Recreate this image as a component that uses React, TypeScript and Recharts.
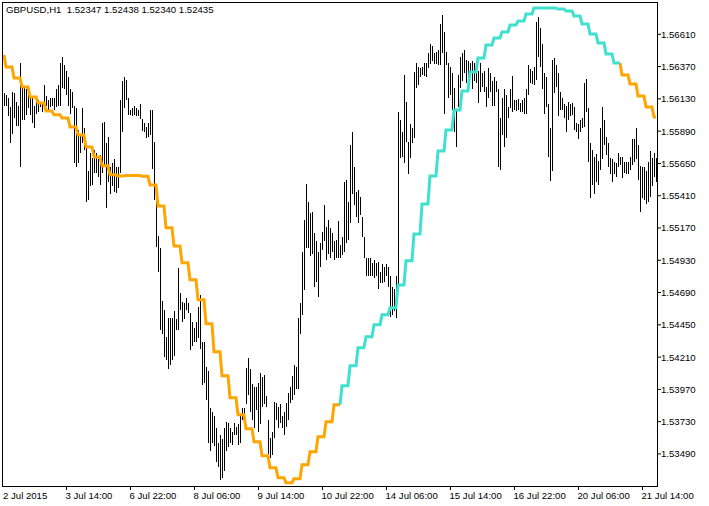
import React from 'react';
import { ComposedChart, Bar, Line, XAxis, YAxis } from 'recharts';

const title = 'GBPUSD,H1  1.52347 1.52438 1.52340 1.52435';

const highs = [
  1.5617,1.5616,1.5614,1.5607,1.5618,1.5617,1.5611,1.5608,1.5640,1.5622,
  1.5621,1.5620,1.5616,1.5616,1.5614,1.5608,1.5614,1.5612,1.5611,1.5611,
  1.5623,1.5615,1.5612,1.5614,1.5614,1.5614,1.5620,1.5623,1.5640,1.5644,
  1.5638,1.5634,1.5629,1.5620,1.5618,1.5608,1.5606,1.5590,1.5586,1.5606,
  1.5591,1.5577,1.5559,1.5573,1.5569,1.5575,1.5573,1.5568,1.5571,1.5595,
  1.5596,1.5580,1.5585,1.5562,1.5565,1.5568,1.5562,1.5562,1.5612,1.5626,
  1.5629,1.5627,1.5614,1.5605,1.5606,1.5608,1.5606,1.5605,1.5609,1.5598,
  1.5595,1.5592,1.5595,1.5605,1.5605,1.5581,1.5538,1.5511,1.5502,1.5463,
  1.5456,1.5436,1.5450,1.5450,1.5450,1.5455,1.5449,1.5487,1.5469,1.5462,
  1.5461,1.5465,1.5461,1.5454,1.5447,1.5443,1.5447,1.5458,1.5467,1.5432,
  1.5432,1.5414,1.5411,1.5383,1.5380,1.5377,1.5368,1.5357,1.5363,1.5360,
  1.5368,1.5373,1.5372,1.5368,1.5365,1.5372,1.5369,1.5371,1.5377,1.5383,
  1.5383,1.5413,1.5420,1.5412,1.5401,1.5399,1.5399,1.5402,1.5409,1.5406,
  1.5408,1.5392,1.5374,1.5361,1.5365,1.5388,1.5387,1.5384,1.5386,1.5377,
  1.5380,1.5387,1.5394,1.5399,1.5407,1.5415,1.5414,1.5450,1.5461,1.5499,
  1.5523,1.5550,1.5536,1.5528,1.5529,1.5513,1.5507,1.5499,1.5506,1.5514,
  1.5534,1.5518,1.5523,1.5517,1.5513,1.5507,1.5508,1.5522,1.5504,1.5510,
  1.5551,1.5553,1.5536,1.5579,1.5588,1.5562,1.5544,1.5545,1.5540,1.5525,
  1.5510,1.5495,1.5495,1.5495,1.5491,1.5493,1.5491,1.5492,1.5484,1.5490,
  1.5488,1.5490,1.5488,1.5481,1.5473,1.5472,1.5481,1.5603,1.5597,1.5588,
  1.5631,1.5611,1.5581,1.5594,1.5591,1.5633,1.5640,1.5637,1.5636,1.5637,
  1.5640,1.5640,1.5647,1.5654,1.5652,1.5647,1.5648,1.5649,1.5669,1.5675,
  1.5663,1.5648,1.5640,1.5637,1.5632,1.5621,1.5605,1.5631,1.5644,1.5647,
  1.5649,1.5642,1.5641,1.5640,1.5641,1.5640,1.5632,1.5634,1.5640,1.5632,
  1.5634,1.5622,1.5636,1.5632,1.5626,1.5629,1.5626,1.5620,1.5599,1.5614,
  1.5620,1.5616,1.5607,1.5620,1.5630,1.5612,1.5612,1.5613,1.5610,1.5612,
  1.5614,1.5620,1.5638,1.5635,1.5634,1.5637,1.5670,1.5674,1.5666,1.5654,
  1.5632,1.5629,1.5609,1.5591,1.5642,1.5643,1.5638,1.5632,1.5618,1.5614,
  1.5609,1.5608,1.5611,1.5609,1.5610,1.5607,1.5595,1.5594,1.5597,1.5599,
  1.5625,1.5628,1.5606,1.5580,1.5575,1.5570,1.5572,1.5567,1.5591,1.5607,
  1.5597,1.5585,1.5580,1.5569,1.5568,1.5566,1.5565,1.5573,1.5570,1.5570,
  1.5566,1.5566,1.5566,1.5570,1.5583,1.5583,1.5591,1.5579,1.5563,1.5562,
  1.5562,1.5559,1.5566,1.5574,1.5569,1.5573,1.5569,
];

const lows = [
  1.5608,1.5608,1.5600,1.5580,1.5587,1.5599,1.5593,1.5593,1.5562,1.5597,
  1.5597,1.5601,1.5606,1.5601,1.5595,1.5591,1.5602,1.5603,1.5607,1.5603,
  1.5607,1.5608,1.5605,1.5607,1.5608,1.5605,1.5607,1.5608,1.5608,1.5621,
  1.5620,1.5616,1.5608,1.5602,1.5606,1.5565,1.5562,1.5565,1.5573,1.5580,
  1.5575,1.5536,1.5538,1.5548,1.5549,1.5558,1.5558,1.5555,1.5549,1.5558,
  1.5562,1.5532,1.5551,1.5542,1.5548,1.5544,1.5543,1.5547,1.5558,1.5588,
  1.5606,1.5612,1.5601,1.5601,1.5600,1.5601,1.5600,1.5600,1.5598,1.5589,
  1.5588,1.5584,1.5585,1.5586,1.5561,1.5538,1.5503,1.5484,1.5441,1.5438,
  1.5421,1.5419,1.5412,1.5415,1.5419,1.5422,1.5441,1.5441,1.5456,1.5447,
  1.5449,1.5456,1.5454,1.5426,1.5429,1.5432,1.5432,1.5435,1.5427,1.5400,
  1.5402,1.5389,1.5357,1.5351,1.5357,1.5355,1.5343,1.5339,1.5330,1.5331,
  1.5336,1.5351,1.5354,1.5357,1.5356,1.5363,1.5363,1.5356,1.5357,1.5374,
  1.5372,1.5386,1.5393,1.5380,1.5374,1.5368,1.5382,1.5365,1.5371,1.5384,
  1.5386,1.5384,1.5349,1.5346,1.5348,1.5361,1.5374,1.5368,1.5372,1.5368,
  1.5363,1.5369,1.5374,1.5387,1.5389,1.5393,1.5397,1.5397,1.5438,1.5452,
  1.5471,1.5502,1.5502,1.5496,1.5498,1.5473,1.5477,1.5466,1.5488,1.5501,
  1.5507,1.5493,1.5498,1.5495,1.5499,1.5493,1.5495,1.5495,1.5495,1.5497,
  1.5499,1.5506,1.5508,1.5521,1.5542,1.5534,1.5525,1.5521,1.5527,1.5510,
  1.5495,1.5481,1.5481,1.5481,1.5481,1.5480,1.5481,1.5472,1.5476,1.5476,
  1.5477,1.5481,1.5473,1.5451,1.5452,1.5455,1.5450,1.5475,1.5569,1.5570,
  1.5565,1.5581,1.5557,1.5569,1.5580,1.5584,1.5621,1.5623,1.5629,1.5631,
  1.5630,1.5629,1.5636,1.5639,1.5641,1.5639,1.5639,1.5638,1.5638,1.5647,
  1.5602,1.5638,1.5614,1.5616,1.5605,1.5588,1.5577,1.5607,1.5621,1.5626,
  1.5632,1.5625,1.5629,1.5633,1.5620,1.5626,1.5625,1.5610,1.5618,1.5622,
  1.5618,1.5607,1.5614,1.5618,1.5608,1.5608,1.5618,1.5562,1.5560,1.5586,
  1.5577,1.5584,1.5599,1.5606,1.5603,1.5605,1.5604,1.5605,1.5603,1.5603,
  1.5602,1.5602,1.5616,1.5625,1.5624,1.5623,1.5627,1.5644,1.5637,1.5620,
  1.5602,1.5607,1.5570,1.5552,1.5559,1.5617,1.5622,1.5600,1.5605,1.5605,
  1.5599,1.5588,1.5597,1.5600,1.5601,1.5590,1.5588,1.5583,1.5588,1.5591,
  1.5592,1.5603,1.5566,1.5539,1.5549,1.5542,1.5551,1.5549,1.5560,1.5568,
  1.5579,1.5571,1.5562,1.5557,1.5551,1.5557,1.5555,1.5562,1.5564,1.5554,
  1.5558,1.5557,1.5557,1.5560,1.5564,1.5566,1.5568,1.5553,1.5529,1.5539,
  1.5538,1.5535,1.5536,1.5540,1.5548,1.5555,1.5551,
];

// moving average value for each 4-hour block (first block holds one bar)
const maBlocks = [
  1.56456,1.56367,1.56285,1.56219,1.56144,1.56100,1.56040,1.56011,1.55988,1.55921,
  1.55862,1.55773,1.55698,1.55632,1.55565,1.55557,1.55561,1.55561,1.55554,1.55490,
  1.55334,1.55171,1.55037,1.54911,1.54785,1.54636,1.54458,1.54250,1.54071,1.53908,
  1.53782,1.53678,1.53581,1.53477,1.53388,1.53314,1.53276,1.53306,1.53410,1.53507,
  1.53618,1.53730,1.53856,1.53997,1.54146,1.54279,1.54361,1.54450,1.54525,1.54577,
  1.54747,1.54926,1.55126,1.55349,1.55557,1.55743,1.55899,1.56048,1.56189,1.56330,
  1.56434,1.56531,1.56583,1.56627,1.56679,1.56709,1.56761,1.56806,1.56806,1.56806,
  1.56798,1.56783,1.56746,1.56687,1.56612,1.56546,1.56464,1.56397,1.56308,1.56241,
  1.56152,1.56070,1.55996,
];

// -1 = orange (down) state, 1 = turquoise (up) state, per block
const maTrend = [
  -1,-1,-1,-1,-1,-1,-1,-1,-1,-1,
  -1,-1,-1,-1,-1,-1,-1,-1,-1,-1,
  -1,-1,-1,-1,-1,-1,-1,-1,-1,-1,
  -1,-1,-1,-1,-1,-1,-1,-1,-1,-1,
  -1,-1,-1,1,1,1,1,1,1,1,
  1,1,1,1,1,1,1,1,1,1,
  1,1,1,1,1,1,1,1,1,1,
  1,1,1,1,1,1,1,1,-1,-1,
  -1,-1,-1,
];

const tickIndices = [0, 31, 63, 95, 127, 159, 191, 223, 255, 287, 319];
const tickLabels = [
  '2 Jul 2015', '3 Jul 14:00', '6 Jul 22:00', '8 Jul 06:00', '9 Jul 14:00',
  '10 Jul 22:00', '14 Jul 06:00', '15 Jul 14:00', '16 Jul 22:00', '20 Jul 06:00', '21 Jul 14:00',
];

const priceTicks = [
  1.5349, 1.5373, 1.5397, 1.5421, 1.5445, 1.5469, 1.5493,
  1.5517, 1.5541, 1.5565, 1.5589, 1.5613, 1.5637, 1.5661,
];
const priceDomain = [1.53252, 1.5685];

const FONT = 'Liberation Sans, Arial, sans-serif';
const ORANGE = '#FFA500';
const TURQ = '#40E0D0';

const blockOf = (i: number) => (i === 0 ? 0 : Math.floor((i - 1) / 4) + 1);

const data = highs.map((h, i) => {
  const k = blockOf(i);
  const ma = maBlocks[k];
  const up = maTrend[k] > 0;
  const nextUp = i + 1 < highs.length ? maTrend[blockOf(i + 1)] > 0 : up;
  return {
    i,
    hl: [lows[i], h],
    maDown: !up || !nextUp ? ma : null,
    maUp: up || nextUp ? ma : null,
  };
});

const HLBar = (props: any) => {
  const { x, y, width, height } = props;
  if (x == null || y == null || isNaN(x) || isNaN(y)) return <g />;
  const top = height < 0 ? y + height : y;
  const h = Math.max(1, Math.abs(height));
  const cx = Math.round(x + width / 2 - 0.5);
  return <rect x={cx} y={top} width={1} height={h} fill="#000" shapeRendering="crispEdges" />;
};

const XTick = (props: any) => {
  const { x, y, payload } = props;
  const idx = tickIndices.indexOf(payload.value);
  if (idx < 0) return <g />;
  const axisY = y - 4;
  const tx = Math.round(x) + 0.5;
  return (
    <g>
      {idx > 0 && <line x1={tx} x2={tx} y1={axisY} y2={axisY + 4} stroke="#000" strokeWidth={1} />}
      <text x={idx === 0 ? x - 1 : x - 0.5} y={axisY + 12.5} fontSize={9.6} fontFamily={FONT} fill="#000" textAnchor="start">
        {tickLabels[idx]}
      </text>
    </g>
  );
};

export default function App() {
  return (
    <div style={{ position: 'fixed', left: 0, top: 0, width: 709, height: 506, background: '#fff' }}>
      <ComposedChart
        width={709}
        height={506}
        data={data}
        margin={{ top: 2, right: 0, bottom: 0, left: 3 }}
        barGap={0}
        barCategoryGap={0}
      >
        <XAxis
          dataKey="i"
          type="category"
          interval={0}
          tickLine={false}
          axisLine={false}
          tickSize={4}
          tickMargin={0}
          height={20}
          tick={<XTick />}
        />
        <YAxis
          orientation="right"
          type="number"
          domain={priceDomain}
          allowDataOverflow
          ticks={priceTicks}
          interval={0}
          tickFormatter={(v: number) => v.toFixed(5)}
          width={52}
          axisLine={false}
          tickLine={{ stroke: '#000' }}
          tickSize={4}
          tickMargin={0}
          tick={{ fontSize: 9.6, fill: '#000', fontFamily: FONT }}
        />
        <Bar dataKey="hl" barSize={1} fill="#000" shape={<HLBar />} isAnimationActive={false} />
        <Line
          dataKey="maDown"
          type="linear"
          stroke={ORANGE}
          strokeWidth={3}
          dot={false}
          activeDot={false}
          connectNulls={false}
          isAnimationActive={false}
        />
        <Line
          dataKey="maUp"
          type="linear"
          stroke={TURQ}
          strokeWidth={3}
          dot={false}
          activeDot={false}
          connectNulls={false}
          isAnimationActive={false}
        />
      </ComposedChart>
      <div
        style={{
          position: 'absolute', left: 2, top: 2, width: 656, height: 485,
          border: '1px solid #000', boxSizing: 'border-box', pointerEvents: 'none',
        }}
      />
      <div
        style={{
          position: 'absolute', left: 6, top: 4, fontFamily: FONT, fontSize: 9.6,
          lineHeight: '11px', whiteSpace: 'pre', color: '#000',
        }}
      >
        {title}
      </div>
    </div>
  );
}
